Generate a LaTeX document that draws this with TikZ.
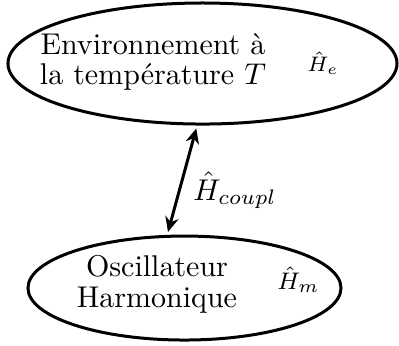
\documentclass[tikz,border=0pt]{standalone}
\usetikzlibrary{shapes.geometric,arrows.meta}
\begin{document}
\begin{tikzpicture}[>={Stealth[length=5pt,width=4.5pt]},
    bulle/.style={ellipse, draw, line width=1pt},
    texte/.style={align=center, font=\fontsize{10}{10.2}\selectfont}]
    \useasboundingbox (0,0) rectangle (4.674,4.042);
    \node[bulle, minimum width=4.557cm, minimum height=1.418cm] (env) at (2.372,3.298) {};
    \node[bulle, minimum width=3.667cm, minimum height=1.218cm] (osc) at (2.161,0.668) {};
    \node[texte] (envtxt) at (1.792,3.315) {Environnement \`a\\ la temp\'erature $T$};
    \node[texte] (osctxt) at (1.839,0.709) {Oscillateur\\ Harmonique};
    \node[font=\scriptsize] (He) at (3.784,3.304) {$\hat{H}_e$};
    \node[font=\footnotesize] (Hm) at (3.497,0.761) {$\hat{H}_m$};
    \draw[<->, line width=1pt, shorten <=1pt, shorten >=1pt] (env.265) -- (osc.108);
    \node (Hcoupl) at (2.753,1.810) {$\hat{H}_{coupl}$};
\end{tikzpicture}
\end{document}
